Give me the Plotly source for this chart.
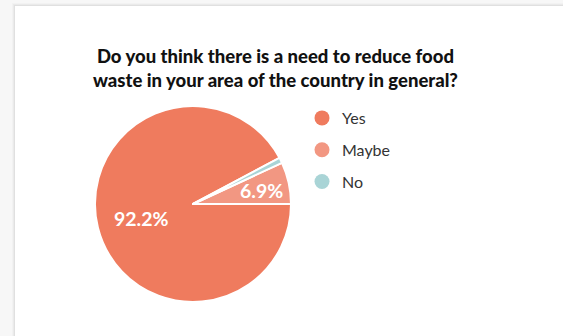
import math
import plotly.graph_objects as go

# Survey answers and their shares (%)
answers = ["Yes", "Maybe", "No"]
shares = [92.2, 6.9, 0.9]
colors = ["#ef7b5e", "#f29782", "#a9d4d6"]
# which slices carry a value label, and how far out (fraction of radius)
label_shown = [True, True, False]
label_radius = [0.54, 0.72, 0.0]

title_lines = [
    "Do you think there is a need to reduce food",
    "waste in your area of the country in general?",
]

W, H = 563, 336
# pie box in pixels (left, right, top, bottom)
PL, PR, PT, PB = 95, 291, 105, 303

fig = go.Figure()

fig.add_trace(go.Pie(
    labels=answers,
    values=shares,
    sort=False,
    direction="counterclockwise",
    rotation=90,  # slices start at 3 o'clock
    marker=dict(colors=colors, line=dict(color="white", width=2)),
    textinfo="none",
    hoverinfo="label+percent",
    showlegend=False,
    domain=dict(x=[PL / W, PR / W], y=[1 - PB / H, 1 - PT / H]),
))

# Percentage labels placed along each slice's middle angle.
# Slice order going counterclockwise from 3 o'clock: Maybe, No, Yes.
cx, cy = (PL + PR) / 2, (PT + PB) / 2
radius = min(PR - PL, PB - PT) / 2
total = sum(shares)
order = [1, 2, 0]
start = 0.0
mid_angle = {}
for i in order:
    sweep = 360 * shares[i] / total
    mid_angle[i] = start + sweep / 2
    start += sweep

annotations = []
for i, name in enumerate(answers):
    if not label_shown[i]:
        continue
    a = math.radians(mid_angle[i])
    px = cx + label_radius[i] * radius * math.cos(a)
    py = cy - label_radius[i] * radius * math.sin(a)
    annotations.append(dict(
        text=f"{100 * shares[i] / total:.1f}%",
        xref="paper", yref="paper", x=px / W, y=1 - py / H,
        xanchor="center", yanchor="middle", showarrow=False, yshift=-2,
        font=dict(family="Lato", size=19.5, color="white", weight="bold"),
    ))

annotations.append(dict(
    text="<br>".join(title_lines),
    xref="paper", yref="paper",
    x=275 / W, y=1 - 43 / H, xanchor="center", yanchor="top",
    showarrow=False, align="center",
    font=dict(family="Lato", size=18.5, color="#111111", weight=900),
))

# Legend entries with round markers
for name, col in zip(answers, colors):
    fig.add_trace(go.Scatter(
        x=[None], y=[None], mode="markers", name=name,
        legendgroup=name,
        marker=dict(color=col, size=15, symbol="circle"),
    ))

# Card background with a soft shadow on its left/top edges
shapes = []
for k, a in enumerate([0.02, 0.03, 0.04]):
    off = 3 - k
    shapes.append(dict(
        type="rect", xref="paper", yref="paper", layer="below",
        x0=(15 - off) / W, x1=1.02, y0=-0.02, y1=1 - (6 - off) / H,
        fillcolor=f"rgba(0,0,0,{a})", line=dict(width=0),
    ))
shapes.append(dict(
    type="rect", xref="paper", yref="paper", layer="below",
    x0=15 / W, x1=1.02, y0=-0.02, y1=1 - 6 / H,
    fillcolor="white", line=dict(width=0),
))

fig.update_layout(
    width=W, height=H,
    margin=dict(l=0, r=0, t=0, b=0),
    paper_bgcolor="#f7f7f7",
    plot_bgcolor="rgba(0,0,0,0)",
    shapes=shapes,
    annotations=annotations,
    xaxis=dict(visible=False, domain=[0.9, 0.95]),
    yaxis=dict(visible=False, domain=[0.9, 0.95]),
    legend=dict(
        x=302 / W, y=1 - 101 / H, xanchor="left", yanchor="top",
        bgcolor="rgba(0,0,0,0)",
        font=dict(family="Lato", size=16, color="#333333"),
        tracegroupgap=8,
        itemsizing="trace",
    ),
    showlegend=True,
)

fig.write_html("out.html")
